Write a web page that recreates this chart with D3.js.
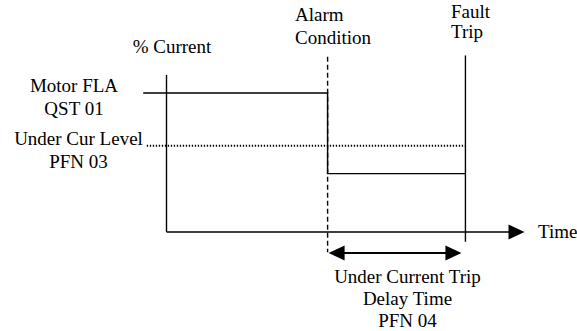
<!DOCTYPE html>
<html>
<head>
<meta charset="utf-8">
<script src="https://cdn.jsdelivr.net/npm/d3@7"></script>
<style>
  html, body { margin: 0; padding: 0; background: #fff; overflow: hidden; }
</style>
</head>
<body>
<div id="chart"></div>
<script>
// levels in % of motor FLA, time in arbitrary units
const motorFLA = 100
const underCurLevel = 62
const runningCurrent = 42
const alarmTime = 4.5
const faultTime = 8.35
const currentSteps = [
  { t: -0.65, i: motorFLA },
  { t: alarmTime, i: motorFLA },
  { t: alarmTime, i: runningCurrent },
  { t: faultTime, i: runningCurrent }
]
const levelLabels = [
  { lines: ['Motor FLA', 'QST 01'], level: motorFLA },
  { lines: ['Under Cur Level', 'PFN 03'], level: underCurLevel }
]
const eventLabels = [
  { lines: ['Alarm', 'Condition'], t: alarmTime },
  { lines: ['Fault', 'Trip'], t: faultTime }
]
const delayLabel = ['Under Current Trip', 'Delay Time', 'PFN 04']

const width = 577
const height = 331

const x = d3.scaleLinear().domain([0, 10]).range([166.5, 524.5])
const y = d3.scaleLinear().domain([0, 100]).range([232, 93])

const svg = d3.select('#chart').append('svg')
  .attr('width', width)
  .attr('height', height)

const g = svg.append('g')
  .attr('fill', 'none')
  .attr('stroke', '#000')
  .attr('stroke-width', 1.4)

// y axis
g.append('line')
  .attr('x1', x(0)).attr('x2', x(0))
  .attr('y1', y(113)).attr('y2', y(0))

// x axis with arrow
g.append('line')
  .attr('x1', x(0)).attr('x2', x(10) - 12)
  .attr('y1', y(0)).attr('y2', y(0))
g.append('path')
  .attr('fill', '#000').attr('stroke', 'none')
  .attr('d', `M${x(10)},${y(0)} L${x(10) - 16},${y(0) - 7.5} L${x(10) - 16},${y(0) + 7.5} Z`)

// under current level (dotted)
g.append('line')
  .attr('x1', x(-0.55)).attr('x2', x(faultTime))
  .attr('y1', y(underCurLevel)).attr('y2', y(underCurLevel))
  .attr('stroke-width', 2)
  .attr('stroke-dasharray', '1.3,1.7')

// current trace
const line = d3.line().x(d => x(d.t)).y(d => y(d.i)).curve(d3.curveLinear)
g.append('path')
  .attr('d', line(currentSteps))

// alarm (dashed) and fault markers
g.append('line')
  .attr('x1', x(alarmTime)).attr('x2', x(alarmTime))
  .attr('y1', y(126)).attr('y2', y(-14.5))
  .attr('stroke-dasharray', '5,3')
g.append('line')
  .attr('x1', x(faultTime)).attr('x2', x(faultTime))
  .attr('y1', y(127)).attr('y2', y(-7))

// delay double arrow
const ay = 253
const ax1 = x(alarmTime) + 1
const ax2 = x(faultTime) - 4
g.append('line')
  .attr('x1', ax1 + 12).attr('x2', ax2 - 12)
  .attr('y1', ay).attr('y2', ay)
  .attr('stroke-width', 2.2)
g.append('path')
  .attr('fill', '#000').attr('stroke', 'none')
  .attr('d', `M${ax1},${ay} L${ax1 + 16},${ay - 7.5} L${ax1 + 16},${ay + 7.5} Z
              M${ax2},${ay} L${ax2 - 16},${ay - 7.5} L${ax2 - 16},${ay + 7.5} Z`)

// text
const txt = svg.append('g')
  .attr('font-family', 'Liberation Serif')
  .attr('font-size', 19)
  .attr('fill', '#000')

txt.append('text')
  .attr('x', 172).attr('y', 53)
  .attr('text-anchor', 'middle')
  .text('% Current')

txt.append('text')
  .attr('x', 538).attr('y', 238)
  .text('Time')

const labelX = [74, 78.5]
levelLabels.forEach((d, i) => {
  txt.append('text')
    .attr('text-anchor', 'middle')
    .attr('x', labelX[i])
    .attr('y', y(d.level) - 1)
    .selectAll('tspan')
    .data(d.lines)
    .join('tspan')
    .attr('x', labelX[i])
    .attr('dy', (t, j) => j === 0 ? 0 : 23)
    .text(t => t)
})

const eventX = [295, 451]
const eventY = [21, 18]
const eventGap = [23, 20]
eventLabels.forEach((d, i) => {
  txt.append('text')
    .attr('x', eventX[i])
    .attr('y', eventY[i])
    .selectAll('tspan')
    .data(d.lines)
    .join('tspan')
    .attr('x', eventX[i])
    .attr('dy', (t, j) => j === 0 ? 0 : eventGap[i])
    .text(t => t)
})

txt.append('text')
  .attr('text-anchor', 'middle')
  .attr('x', 407.5)
  .attr('y', 283)
  .selectAll('tspan')
  .data(delayLabel)
  .join('tspan')
  .attr('x', 407.5)
  .attr('dy', (t, j) => j === 0 ? 0 : 22)
  .text(t => t)
</script>
</body>
</html>
